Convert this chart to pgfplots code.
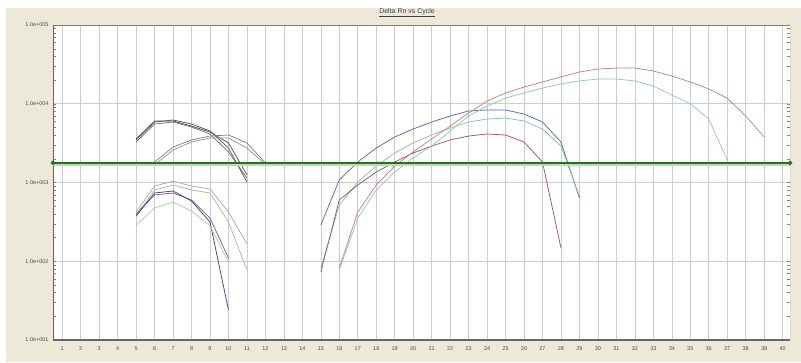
\documentclass[border=0pt]{standalone}
\usepackage{pgfplots}
\pgfplotsset{compat=1.18}
\usepackage{fontspec}
\setmainfont{Liberation Sans}

\definecolor{panel}{RGB}{236,233,216}
\definecolor{gridc}{RGB}{205,205,205}
\definecolor{thr}{RGB}{40,110,40}
\definecolor{thrband}{RGB}{180,226,165}
% early cluster
\definecolor{ua}{RGB}{88,88,88}
\definecolor{ub}{RGB}{112,112,112}
\definecolor{uc}{RGB}{80,80,98}
\definecolor{ud}{RGB}{130,130,130}
\definecolor{ue}{RGB}{150,150,150}
\definecolor{la}{RGB}{172,172,172}
\definecolor{lb}{RGB}{172,188,164}
\definecolor{lc}{RGB}{146,88,136}
\definecolor{ld}{RGB}{62,70,122}
\definecolor{le}{RGB}{165,210,165}
% late cluster
\definecolor{rblue}{RGB}{90,104,172}
\definecolor{rgreen}{RGB}{132,198,160}
\definecolor{rmaroon}{RGB}{164,84,98}
\definecolor{rred}{RGB}{200,128,140}
\definecolor{rlgreen}{RGB}{150,202,172}

\begin{document}
\begin{tikzpicture}[x=1bp,y=1bp]
\fill[white] (0,0) rectangle (801,362);
\fill[panel] (6,0) rectangle (801,354);
\node[font=\fontsize{7}{8}\selectfont, text=black!75] at (407,349) {\underline{Delta Rn vs Cycle}};
\begin{axis}[
  at={(53bp,22bp)}, anchor=south west,
  scale only axis, width=737bp, height=315bp,
  xmin=0.5, xmax=40.4,
  ymode=log, ymin=10, ymax=1e5,
  xtick={1,...,40},
  ytick={10,100,1000,10000,100000},
  yticklabels={1.0e+001,1.0e+002,1.0e+003,1.0e+004,1.0e+005},
  log ticks with fixed point=false,
  grid=major,
  major grid style={draw=gridc, line width=0.6bp},
  major tick length=0pt,
  axis line style={draw=none},
  axis background/.style={fill=white},
  tick label style={font=\fontsize{5.5}{6}\selectfont, text=black!70},
  xticklabel style={yshift=-3bp},
  yticklabel style={xshift=-1bp},
  /pgf/number format/assume math mode=true,
  every axis plot/.append style={line width=0.75bp, mark=none},
  clip=true,
]
% frame: heavy left and bottom, light top and right
\draw[black!50, line width=0.6bp] (rel axis cs:0,1) -- (rel axis cs:1,1) -- (rel axis cs:1,0);
\draw[black!60, line width=2bp] (rel axis cs:0,1) -- (rel axis cs:0,0) -- (rel axis cs:1,0);

% early cluster, upper curves
\addplot[ua] coordinates {(5,3470) (6,5860) (7,6220) (8,5530) (9,4510) (10,2740) (11,1010)};
\addplot[ub] coordinates {(5,3270) (6,5530) (7,5860) (8,5070) (9,4130) (10,2440) (11,1140)};
\addplot[uc] coordinates {(5,3560) (6,6040) (7,6040) (8,5210) (9,4380) (10,3180) (11,1250)};
\addplot[ud] coordinates {(6,1820) (7,2820) (8,3470) (9,3890) (10,4010) (11,3180) (12,1770)};
\addplot[ue] coordinates {(6,1670) (7,2590) (8,3270) (9,3670) (10,3670) (11,2740) (12,1700)};

% early cluster, lower curves
\addplot[la] coordinates {(5,422) (6,903) (7,1040) (8,903) (9,826) (10,422) (11,166)};
\addplot[lb] coordinates {(5,386) (6,803) (7,929) (8,803) (9,736) (10,315) (11,77.4)};
\addplot[lc] coordinates {(5,398) (6,694) (7,736) (8,600) (9,354) (10,110)};
\addplot[ld] coordinates {(5,376) (6,736) (7,780) (8,582) (9,315) (10,24.0)};
\addplot[le] coordinates {(5,288) (6,474) (7,565) (8,435) (9,281) (10,97.8)};

% late cluster
\addplot[rblue] coordinates {(15,288) (16,1080) (17,1820) (18,2740) (19,3780) (20,4780) (21,5860) (22,6990) (23,8090) (24,8330) (25,8330) (26,7410) (27,5860) (28,3270) (29,636)};
\addplot[rgreen] coordinates {(15,82.1) (16,518) (17,1010) (18,1620) (19,2370) (20,3180) (21,4010) (22,4920) (23,5860) (24,6400) (25,6590) (26,6040) (27,4780) (28,2900) (29,674)};
\addplot[rmaroon] coordinates {(15,72.9) (16,600) (17,929) (18,1360) (19,1820) (20,2370) (21,2900) (22,3470) (23,3890) (24,4130) (25,4010) (26,3270) (27,1820) (28,147)};
\addplot[rred] coordinates {(16,82.1) (17,422) (18,929) (19,1620) (20,2440) (21,3560) (22,5210) (23,7630) (24,10800) (25,13700) (26,16300) (27,18900) (28,21900) (29,25300) (30,27600) (31,28400) (32,28400) (33,26100) (34,22500) (35,18900) (36,15400) (37,11800) (38,6990) (39,3780)};
\addplot[rlgreen] coordinates {(16,77.4) (17,354) (18,803) (19,1360) (20,2050) (21,2900) (22,4510) (23,6990) (24,9360) (25,11800) (26,13700) (27,15800) (28,17800) (29,19500) (30,20600) (31,20600) (32,19500) (33,16800) (34,12900) (35,10000) (36,6400) (37,1930)};

% threshold
\addplot[thrband, line width=1.6bp, yshift=-1.8bp] coordinates {(0.5,1770) (40.4,1770)};
\addplot[thr, line width=1.4bp, mark=*, mark size=1.5bp, mark options={fill=thr, draw=thr}] coordinates {(0.5,1770) (40.4,1770)};
\end{axis}
\end{tikzpicture}
\end{document}
